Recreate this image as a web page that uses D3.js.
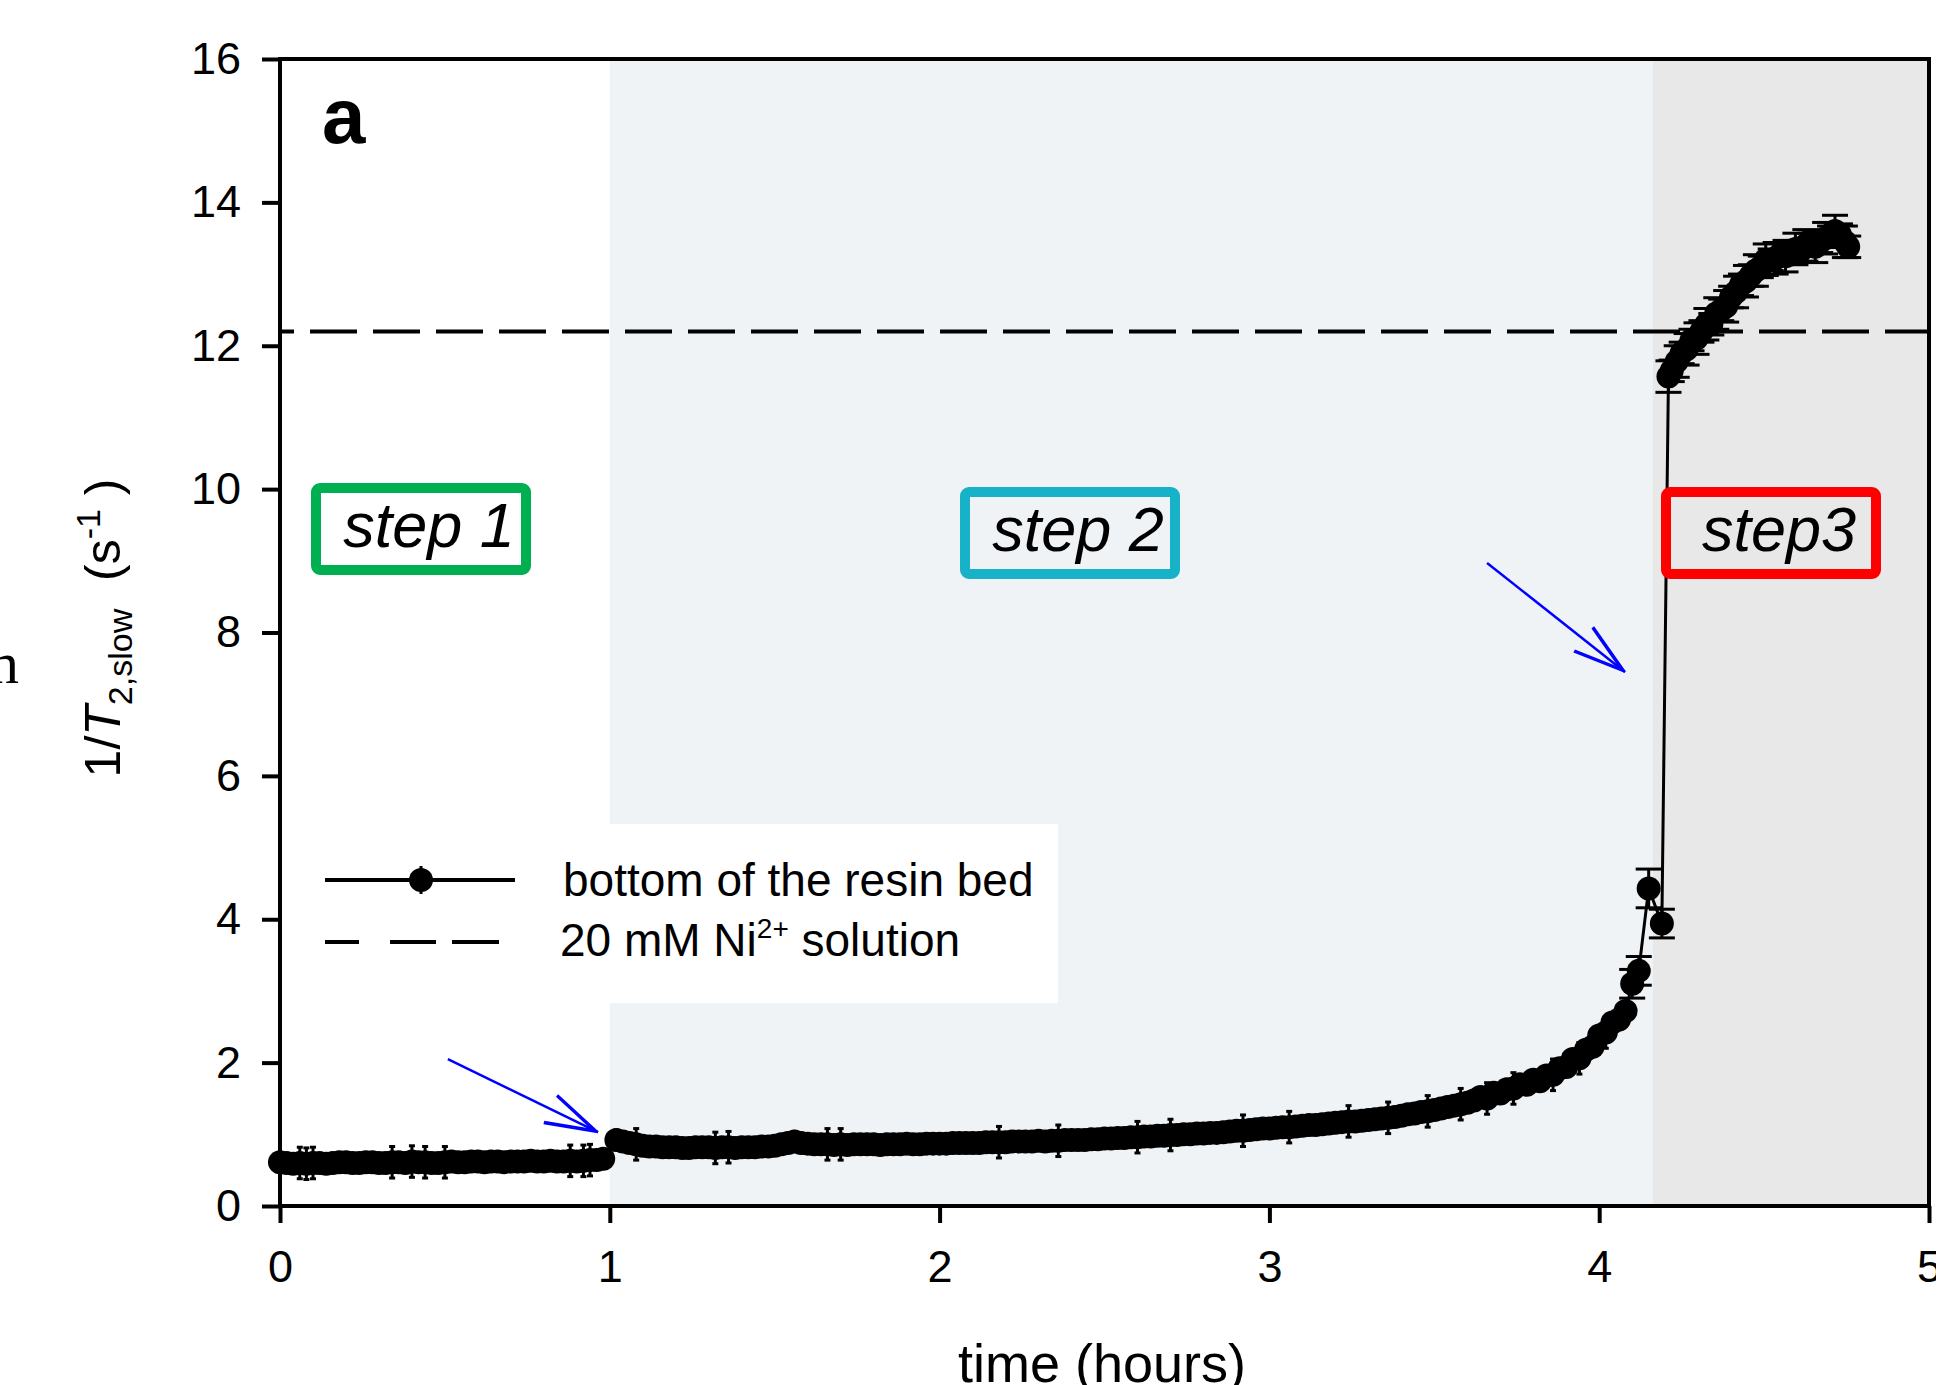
<!DOCTYPE html>
<html>
<head>
<meta charset="utf-8">
<title>1/T2,slow vs time</title>
<script src="https://d3js.org/d3.v7.min.js"></script>
<style>
  body { margin: 0; background: #fff; }
  svg text { font-family: "Liberation Sans", Arial, sans-serif; }
</style>
</head>
<body>
<div id="chart"></div>
<script>

// ---- data (time in hours, 1/T2slow in s^-1, error bar half-length) ----
// step 1
var time1 = [0.00, 0.02, 0.04, 0.06, 0.08, 0.10, 0.12, 0.14, 0.16, 0.18,
  0.20, 0.22, 0.24, 0.26, 0.28, 0.30, 0.32, 0.34, 0.36, 0.38,
  0.40, 0.42, 0.44, 0.46, 0.48, 0.50, 0.52, 0.54, 0.56, 0.58,
  0.60, 0.62, 0.64, 0.66, 0.68, 0.70, 0.72, 0.74, 0.76, 0.78,
  0.80, 0.82, 0.84, 0.86, 0.88, 0.90, 0.92, 0.94, 0.96, 0.98];
var rate1 = [0.61, 0.60, 0.59, 0.60, 0.59, 0.60, 0.60, 0.59, 0.60, 0.61,
  0.61, 0.60, 0.60, 0.61, 0.61, 0.60, 0.60, 0.61, 0.61, 0.60,
  0.62, 0.61, 0.61, 0.60, 0.60, 0.61, 0.62, 0.61, 0.61, 0.62,
  0.62, 0.61, 0.62, 0.62, 0.61, 0.62, 0.62, 0.62, 0.63, 0.62,
  0.62, 0.63, 0.62, 0.62, 0.63, 0.62, 0.63, 0.64, 0.64, 0.66];
var err1 = [0.10, 0.10, 0.10, 0.22, 0.22, 0.22, 0.10, 0.10, 0.10, 0.10,
  0.10, 0.10, 0.10, 0.10, 0.10, 0.10, 0.10, 0.22, 0.10, 0.10,
  0.22, 0.10, 0.22, 0.10, 0.10, 0.22, 0.10, 0.10, 0.10, 0.10,
  0.10, 0.10, 0.10, 0.10, 0.10, 0.10, 0.10, 0.10, 0.10, 0.10,
  0.10, 0.10, 0.10, 0.10, 0.22, 0.10, 0.22, 0.22, 0.10, 0.10];

// step 2
var time2 = [1.02, 1.04, 1.06, 1.08, 1.10, 1.12, 1.14, 1.16, 1.18, 1.20,
  1.22, 1.24, 1.26, 1.28, 1.30, 1.32, 1.34, 1.36, 1.38, 1.40,
  1.42, 1.44, 1.46, 1.48, 1.50, 1.52, 1.54, 1.56, 1.58, 1.60,
  1.62, 1.64, 1.66, 1.68, 1.70, 1.72, 1.74, 1.76, 1.78, 1.80,
  1.82, 1.84, 1.86, 1.88, 1.90, 1.92, 1.94, 1.96, 1.98, 2.00,
  2.02, 2.04, 2.06, 2.08, 2.10, 2.12, 2.14, 2.16, 2.18, 2.20,
  2.22, 2.24, 2.26, 2.28, 2.30, 2.32, 2.34, 2.36, 2.38, 2.40,
  2.42, 2.44, 2.46, 2.48, 2.50, 2.52, 2.54, 2.56, 2.58, 2.60,
  2.62, 2.64, 2.66, 2.68, 2.70, 2.72, 2.74, 2.76, 2.78, 2.80,
  2.82, 2.84, 2.86, 2.88, 2.90, 2.92, 2.94, 2.96, 2.98, 3.00,
  3.02, 3.04, 3.06, 3.08, 3.10, 3.12, 3.14, 3.16, 3.18, 3.20,
  3.22, 3.24, 3.26, 3.28, 3.30, 3.32, 3.34, 3.36, 3.38, 3.40,
  3.42, 3.44, 3.46, 3.48, 3.50, 3.52, 3.54, 3.56, 3.58, 3.60,
  3.62, 3.64, 3.66, 3.68, 3.70, 3.72, 3.74, 3.76, 3.78, 3.80,
  3.82, 3.84, 3.86, 3.88, 3.90, 3.92, 3.94, 3.96, 3.98, 4.00,
  4.02, 4.04, 4.06, 4.08,
  4.10, 4.12, 4.15, 4.19];
var rate2 = [0.92, 0.90, 0.88, 0.86, 0.84, 0.83, 0.83, 0.82, 0.82, 0.82,
  0.81, 0.81, 0.82, 0.82, 0.82, 0.81, 0.82, 0.82, 0.81, 0.82,
  0.82, 0.82, 0.83, 0.83, 0.84, 0.86, 0.88, 0.90, 0.88, 0.87,
  0.86, 0.86, 0.86, 0.85, 0.86, 0.85, 0.86, 0.86, 0.86, 0.86,
  0.85, 0.86, 0.86, 0.86, 0.87, 0.86, 0.86, 0.87, 0.87, 0.87,
  0.87, 0.88, 0.88, 0.88, 0.88, 0.88, 0.89, 0.89, 0.89, 0.89,
  0.90, 0.90, 0.90, 0.90, 0.91, 0.90, 0.91, 0.91, 0.92, 0.92,
  0.92, 0.92, 0.93, 0.93, 0.94, 0.94, 0.95, 0.95, 0.96, 0.96,
  0.97, 0.97, 0.98, 0.98, 0.99, 0.99, 1.00, 1.00, 1.01, 1.01,
  1.02, 1.02, 1.03, 1.04, 1.05, 1.05, 1.06, 1.07, 1.08, 1.08,
  1.09, 1.10, 1.10, 1.11, 1.12, 1.13, 1.13, 1.14, 1.15, 1.16,
  1.17, 1.18, 1.18, 1.19, 1.20, 1.21, 1.22, 1.23, 1.24, 1.26,
  1.28, 1.29, 1.31, 1.32, 1.34, 1.36, 1.38, 1.40, 1.42, 1.44,
  1.47, 1.52, 1.50, 1.58, 1.57, 1.63, 1.64, 1.70, 1.69, 1.76,
  1.74, 1.82, 1.83, 1.92, 1.94, 2.05, 2.06, 2.18, 2.22, 2.38,
  2.42, 2.56, 2.60, 2.72,
  3.10, 3.28, 4.43, 3.94];
var err2 = [0.14, 0.10, 0.10, 0.22, 0.10, 0.10, 0.10, 0.10, 0.10, 0.10,
  0.10, 0.10, 0.10, 0.10, 0.10, 0.22, 0.10, 0.22, 0.10, 0.10,
  0.10, 0.10, 0.10, 0.10, 0.10, 0.10, 0.10, 0.14, 0.10, 0.10,
  0.10, 0.10, 0.22, 0.10, 0.22, 0.10, 0.10, 0.10, 0.10, 0.10,
  0.10, 0.10, 0.10, 0.10, 0.10, 0.10, 0.10, 0.10, 0.10, 0.10,
  0.10, 0.10, 0.10, 0.10, 0.10, 0.10, 0.10, 0.10, 0.22, 0.10,
  0.10, 0.10, 0.10, 0.10, 0.10, 0.10, 0.10, 0.22, 0.10, 0.10,
  0.10, 0.10, 0.10, 0.10, 0.10, 0.10, 0.10, 0.10, 0.10, 0.22,
  0.10, 0.10, 0.10, 0.10, 0.22, 0.10, 0.10, 0.10, 0.10, 0.10,
  0.10, 0.10, 0.10, 0.10, 0.10, 0.22, 0.10, 0.10, 0.10, 0.10,
  0.10, 0.10, 0.22, 0.10, 0.10, 0.10, 0.10, 0.10, 0.10, 0.10,
  0.10, 0.22, 0.10, 0.10, 0.10, 0.10, 0.10, 0.22, 0.10, 0.10,
  0.10, 0.10, 0.10, 0.22, 0.10, 0.10, 0.10, 0.10, 0.22, 0.10,
  0.10, 0.10, 0.22, 0.10, 0.10, 0.10, 0.22, 0.10, 0.10, 0.10,
  0.12, 0.10, 0.22, 0.10, 0.12, 0.10, 0.22, 0.12, 0.10, 0.12,
  0.22, 0.12, 0.14, 0.12,
  0.20, 0.20, 0.27, 0.20];

// step 3
var time3 = [4.21, 4.22, 4.235, 4.25, 4.265, 4.28, 4.295, 4.31, 4.325, 4.34,
  4.355, 4.37, 4.385, 4.40, 4.415, 4.43, 4.445, 4.46, 4.475, 4.49,
  4.505, 4.52, 4.535, 4.55, 4.565, 4.58, 4.595, 4.61, 4.625, 4.64,
  4.655, 4.67, 4.685, 4.70, 4.715, 4.73, 4.745, 4.755];
var rate3 = [11.57, 11.65, 11.78, 11.9, 11.95, 12.08, 12.1, 12.2, 12.3, 12.3,
  12.45, 12.5, 12.55, 12.68, 12.75, 12.85, 12.9, 12.98, 13.05, 13.1,
  13.2, 13.2, 13.22, 13.28, 13.25, 13.3, 13.35, 13.32, 13.4, 13.42,
  13.38, 13.45, 13.5, 13.52, 13.6, 13.55, 13.45, 13.38];
var err3 = [0.22, 0.15, 0.22, 0.15, 0.22, 0.15, 0.22, 0.15, 0.22, 0.15,
  0.22, 0.15, 0.22, 0.15, 0.22, 0.15, 0.22, 0.15, 0.22, 0.15,
  0.22, 0.15, 0.22, 0.15, 0.22, 0.15, 0.22, 0.15, 0.22, 0.15,
  0.22, 0.15, 0.22, 0.15, 0.22, 0.15, 0.22, 0.15];

var niSolution = 12.2;          // 20 mM Ni2+ solution level
var stepStart = [0, 1, 4.163];  // hours
var stepEnd = [1, 4.163, 5];
var stepNames = ["step 1", "step 2", "step3"];
var xTicks = [0, 1, 2, 3, 4, 5];
var yTicks = [0, 2, 4, 6, 8, 10, 12, 14, 16];
var legendNames = ["bottom of the resin bed", "20 mM Ni"];

// ---- layout ----
var W = 1936, H = 1385;
var pLeft = 280, pRight = 1929, pTop = 59, pBottom = 1206;

var svg = d3.select("#chart").append("svg")
  .attr("width", W).attr("height", H);

var x = d3.scaleLinear().domain([0, 5]).range([pLeft, pRight]);
var y = d3.scaleLinear().domain([0, 16]).range([pBottom, pTop]);

// shaded step regions
var shade = ["#ffffff", "#f0f3f6", "#e8e8e8"];
svg.selectAll("rect.shade")
  .data(stepStart)
  .enter().append("rect")
    .attr("class", "shade")
    .attr("x", function(d) { return x(d); })
    .attr("y", pTop)
    .attr("width", function(d, i) { return x(stepEnd[i]) - x(d); })
    .attr("height", pBottom - pTop)
    .attr("fill", function(d, i) { return shade[i]; });

// legend box (white)
svg.append("rect")
  .attr("x", 300).attr("y", 824)
  .attr("width", 758).attr("height", 179)
  .attr("fill", "#ffffff");

// dashed Ni2+ line
svg.append("line")
  .attr("x1", x(0)).attr("x2", x(5))
  .attr("y1", y(niSolution)).attr("y2", y(niSolution))
  .attr("stroke", "#000").attr("stroke-width", 4)
  .attr("stroke-dasharray", "47,16")
  .attr("stroke-dashoffset", -30);

// data
var data = [];
[[time1, rate1, err1], [time2, rate2, err2], [time3, rate3, err3]].forEach(function(s) {
  s[0].forEach(function(t, i) { data.push({t: t, v: s[1][i], e: s[2][i]}); });
});

svg.append("path")
  .datum(data)
  .attr("fill", "none")
  .attr("stroke", "#000")
  .attr("stroke-width", 3)
  .attr("d", d3.line().x(function(d) { return x(d.t); }).y(function(d) { return y(d.v); }));

// wide caps on the sparse high points, short stubs in the dense low band
function cap(d) { return d.v > 2.9 ? 13 : 3; }
var pts = svg.selectAll("g.pt").data(data).enter().append("g").attr("class", "pt");
pts.append("line")
  .attr("x1", function(d) { return x(d.t); }).attr("x2", function(d) { return x(d.t); })
  .attr("y1", function(d) { return y(d.v - d.e); }).attr("y2", function(d) { return y(d.v + d.e); })
  .attr("stroke", "#000").attr("stroke-width", 3);
pts.append("line")
  .attr("x1", function(d) { return x(d.t) - cap(d); }).attr("x2", function(d) { return x(d.t) + cap(d); })
  .attr("y1", function(d) { return y(d.v + d.e); }).attr("y2", function(d) { return y(d.v + d.e); })
  .attr("stroke", "#000").attr("stroke-width", 3);
pts.append("line")
  .attr("x1", function(d) { return x(d.t) - cap(d); }).attr("x2", function(d) { return x(d.t) + cap(d); })
  .attr("y1", function(d) { return y(d.v - d.e); }).attr("y2", function(d) { return y(d.v - d.e); })
  .attr("stroke", "#000").attr("stroke-width", 3);
pts.append("circle")
  .attr("cx", function(d) { return x(d.t); })
  .attr("cy", function(d) { return y(d.v); })
  .attr("r", 12)
  .attr("fill", "#000");

// blue arrows (time, value of tail and tip)
var arrows = [
  {t0: 0.509, v0: 2.05, t1: 0.964, v1: 1.03},
  {t0: 3.66, v0: 8.97, t1: 4.078, v1: 7.45}
];
arrows.forEach(function(a) {
  var x0 = x(a.t0), y0 = y(a.v0), x1 = x(a.t1), y1 = y(a.v1);
  var ang = Math.atan2(y0 - y1, x0 - x1);
  svg.append("line").attr("x1", x0).attr("y1", y0).attr("x2", x1).attr("y2", y1)
    .attr("stroke", "#0000ff").attr("stroke-width", 2.5);
  // open double-line head
  [-0.29, 0.29].forEach(function(da) {
    [0, 5].forEach(function(off) {
      var px = off * Math.cos(ang), py = off * Math.sin(ang);
      svg.append("line").attr("x1", x1 + px).attr("y1", y1 + py)
        .attr("x2", x1 + px + (55 - off) * Math.cos(ang + da))
        .attr("y2", y1 + py + (55 - off) * Math.sin(ang + da))
        .attr("stroke", "#0000ff").attr("stroke-width", 2);
    });
  });
});

// step labels
var stepColor = ["#00b050", "#17b2c8", "#ff0000"];
var boxCx = [421, 1070, 1771], boxCy = [529, 533, 533];
stepNames.forEach(function(n, i) {
  svg.append("rect")
    .attr("x", boxCx[i] - 105).attr("y", boxCy[i] - 41)
    .attr("width", 210).attr("height", 82)
    .attr("rx", 4)
    .attr("fill", "none")
    .attr("stroke", stepColor[i]).attr("stroke-width", 10);
  svg.append("text")
    .attr("x", boxCx[i] + 8).attr("y", boxCy[i] + 18)
    .attr("text-anchor", "middle")
    .style("font-size", "63px").style("font-style", "italic")
    .text(n);
});

// axes
var yAxis = d3.axisLeft(y).tickValues(yTicks).tickSize(18).tickPadding(21).tickFormat(d3.format("d"));
var xAxis = d3.axisBottom(x).tickValues(xTicks).tickSize(17).tickPadding(27).tickFormat(d3.format("d"));

var gy = svg.append("g").attr("transform", "translate(" + pLeft + ",0)").call(yAxis);
var gx = svg.append("g").attr("transform", "translate(0," + pBottom + ")").call(xAxis);
[gx, gy].forEach(function(g) {
  g.select(".domain").remove();
  g.selectAll(".tick line").attr("stroke", "#000").attr("stroke-width", 4);
  g.selectAll(".tick text").attr("fill", "#000").style("font-size", "45px")
    .style("font-family", "'Liberation Sans', Arial, sans-serif");
});

// frame
svg.append("rect")
  .attr("x", pLeft).attr("y", pTop)
  .attr("width", pRight - pLeft).attr("height", pBottom - pTop)
  .attr("fill", "none").attr("stroke", "#000").attr("stroke-width", 4);

// panel letter
svg.append("text").attr("x", 322).attr("y", 143)
  .style("font-size", "78px").style("font-weight", "bold").text("a");

// axis titles
var yt = svg.append("text")
  .attr("transform", "translate(120,628) rotate(-90)")
  .attr("text-anchor", "middle")
  .style("font-size", "50px")
  .style("white-space", "pre");
yt.append("tspan").text("1/");
yt.append("tspan").style("font-style", "italic").text("T");
yt.append("tspan").attr("dy", 12).style("font-size", "34px").text("2,slow");
yt.append("tspan").attr("dy", -12).text("  (s");
yt.append("tspan").attr("dy", -20).style("font-size", "34px").text("-1");
yt.append("tspan").attr("dy", 20).text(" )");

svg.append("text")
  .attr("x", 1102).attr("y", 1382)
  .attr("text-anchor", "middle")
  .style("font-size", "54px")
  .text("time (hours)");

// stray letter from the surrounding page
svg.append("text").attr("x", -11).attr("y", 683)
  .style("font-family", "'Liberation Serif', 'Times New Roman', serif")
  .style("font-size", "60px").text("n");

// legend
svg.append("line").attr("x1", 325).attr("x2", 515).attr("y1", 880).attr("y2", 880)
  .attr("stroke", "#000").attr("stroke-width", 4);
svg.append("circle").attr("cx", 421).attr("cy", 880).attr("r", 12).attr("fill", "#000");
svg.append("line").attr("x1", 421).attr("x2", 421).attr("y1", 866).attr("y2", 894)
  .attr("stroke", "#000").attr("stroke-width", 3);
svg.append("line").attr("x1", 325).attr("x2", 499).attr("y1", 942).attr("y2", 942)
  .attr("stroke", "#000").attr("stroke-width", 4).attr("stroke-dasharray", "34,31,46,16,47,100");

svg.append("text").attr("x", 563).attr("y", 896)
  .style("font-size", "46px").text(legendNames[0]);
var l2 = svg.append("text").attr("x", 560).attr("y", 956).style("font-size", "46px");
l2.append("tspan").text(legendNames[1]);
l2.append("tspan").attr("dy", -18).style("font-size", "28px").text("2+");
l2.append("tspan").attr("dy", 18).text(" solution");

</script>
</body>
</html>
